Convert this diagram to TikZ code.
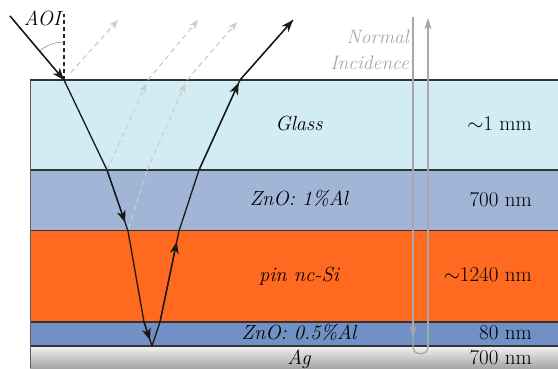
\documentclass[tikz,border=0pt]{standalone}
\usepackage{fontspec}
\usepackage{tikz}
\usetikzlibrary{arrows.meta}
\definecolor{glassfill}{HTML}{D2ECF4}
\definecolor{znofill}{HTML}{A1B5D7}
\definecolor{sifill}{HTML}{FF6920}
\definecolor{znobfill}{HTML}{7191C6}
\definecolor{edgegray}{HTML}{333333}
\definecolor{reflgray}{HTML}{CCCCCC}
\definecolor{normgray}{HTML}{A8A8AC}

\begin{document}
\begin{tikzpicture}[
  x=1pt, y=-1pt,
  font=\fontsize{21}{24}\selectfont,
  bound/.style={draw=edgegray, line width=1.6pt},
  ray/.style={draw=black!90, line width=1.3pt, line join=round},
  raytip/.style={ray, -{Stealth[length=12pt, width=9pt, inset=3.5pt]}},
  refl/.style={draw=reflgray, line width=1.2pt, dash pattern=on 5pt off 4pt},
  refltip/.style={refl, -{Stealth[length=9pt, width=7pt, inset=2.5pt]}},
  normray/.style={draw=normgray, line width=1.3pt},
  normtip/.style={normray, -{Stealth[length=11pt, width=7pt, inset=2.5pt]}},
  matlbl/.style={anchor=base, inner sep=0pt, font=\fontsize{20.5}{24}\selectfont\itshape},
  dimlbl/.style={anchor=base east, inner sep=0pt},
  graylbl/.style={anchor=base east, inner sep=0pt, text=normgray,
    font=\fontsize{19.5}{22}\selectfont\itshape}
]
\useasboundingbox (0,0) rectangle (558,368);
\clip (0,0) rectangle (558,368);

\fill[glassfill] (30,80) rectangle (570,170);
\fill[znofill] (30,170) rectangle (570,230.5);
\fill[sifill] (30,230.5) rectangle (570,322);
\fill[znobfill] (30,322) rectangle (570,346);
\shade[top color=white!95!black, bottom color=black!35] (30,346) rectangle (570,368);
\foreach \y in {80,170,230.5,322,346}
  \draw[bound] (30,\y) -- (570,\y);
\draw[draw=edgegray!80, line width=1pt] (30,80) -- (30,368);

\node[matlbl] (glass) at (299,130) {Glass};
\node[matlbl] (zno) at (299,205) {ZnO: 1\%Al};
\node[matlbl] (si) at (299,281) {pin nc-Si};
\node[matlbl] (znob) at (299,339) {ZnO: 0.5\%Al};
\node[matlbl] (ag) at (299,364) {Ag};
\node[dimlbl] (tglass) at (532,130) {$\sim$1 mm};
\node[dimlbl] (tzno) at (532,206) {700 nm};
\node[dimlbl] (tsi) at (532,281) {$\sim$1240 nm};
\node[dimlbl] (tznob) at (532,339) {80 nm};
\node[dimlbl] (tag) at (532,364) {700 nm};

\coordinate (src) at (10,16);
\coordinate (p0) at (64,80);
\coordinate (p1) at (107,170);
\coordinate (p2) at (128,231);
\coordinate (p3) at (144,322);
\coordinate (p4) at (152,346);
\coordinate (p5) at (160,322);
\coordinate (p6) at (179,231);
\coordinate (p7) at (199,170);
\coordinate (p8) at (240,80);
\coordinate (out) at (293,20);
\coordinate (nrm) at (64,14);

\draw[black!85, line width=1.2pt, dash pattern=on 4.5pt off 2.5pt] (p0) -- (nrm);
\draw[black!50, line width=0.5pt] (64,42) .. controls (55.1,42) and (46.4,45.2) .. (39.6,50.9);
\node[matlbl, anchor=base east] (aoi) at (61,25) {AOI};

\coordinate (ra) at (118,20);
\coordinate (rb) at (148,80);
\coordinate (rb2) at (198,20);
\coordinate (rc1) at (147,170);
\coordinate (rc2) at (187,80);
\coordinate (rc3) at (237,22);
\draw[refltip, shorten <=10pt] (p0) -- (ra);
\draw[refltip, shorten >=4pt] (p1) -- (rb);
\draw[refltip] (rb) -- (rb2);
\draw[refl, shorten <=3pt] (p2) -- (rc1);
\draw[refltip, shorten >=4pt] (rc1) -- (rc2);
\draw[refltip] (rc2) -- (rc3);

\draw[ray] (src) -- (p0) -- (p1) -- (p2) -- (p3) -- (p4) -- (p5) -- (p6) -- (p7) -- (p8) -- (out);
\draw[raytip] (src) -- (p0);
\draw[raytip, shorten >=9pt] (p1) -- (p2);
\draw[raytip, shorten >=6pt] (p3) -- (p4);
\draw[raytip, shorten >=11pt] (p5) -- (p6);
\draw[raytip, shorten >=3pt] (p7) -- (p8);
\draw[raytip] (p8) -- (out);

\coordinate (nd0) at (413,17);
\coordinate (nd1) at (413,347);
\coordinate (nu0) at (428,347);
\coordinate (nu1) at (428,18);
\draw[normray] (nd0) -- (nd1) .. controls +(0,9) and +(0,9) .. (nu0);
\draw[normtip, shorten >=10pt] (nd0) -- (nd1);
\draw[normtip] (nu0) -- (nu1);
\node[graylbl] (normal) at (409,43) {Normal};
\node[graylbl] (incid) at (409,69) {Incidence};
\end{tikzpicture}
\end{document}
